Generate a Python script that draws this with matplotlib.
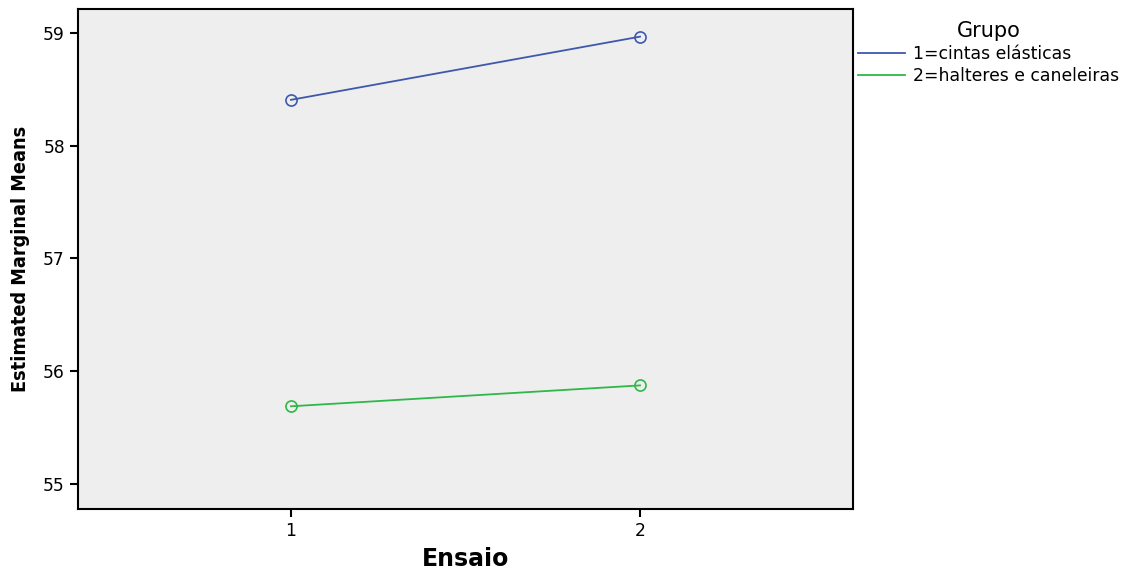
import matplotlib
matplotlib.use("Agg")
import matplotlib.pyplot as plt
from matplotlib import font_manager

ensaio = [1, 2]
grupos = ["1=cintas elásticas", "2=halteres e caneleiras"]
medias = {
    "1=cintas elásticas": [58.405, 58.965],
    "2=halteres e caneleiras": [55.69, 55.875],
}
cores = ["#3E58AC", "#2EB848"]

plt.rcParams['font.family'] = ['Liberation Sans', 'DejaVu Sans']

# condensed bold for the y label if there is one
cond = [f for f in font_manager.fontManager.ttflist
        if f.stretch == 'condensed' and f.weight in ('bold', 700)]

fig = plt.figure(figsize=(11.29, 5.73), dpi=100)
ax = fig.add_axes([0.0691, 0.1117, 0.6864, 0.8726])
ax.set_facecolor("#EEEEEE")

for g, c in zip(grupos, cores):
    ax.plot(ensaio, medias[g], color=c, lw=1.3, marker='o', markersize=8,
            markerfacecolor='none', markeredgecolor=c, markeredgewidth=1.2, label=g)

ax.set_xlim(0.39, 2.61)
ax.set_ylim(54.78, 59.21)
ax.set_xticks(ensaio)
ax.set_yticks([55, 56, 57, 58, 59])
ax.tick_params(length=6, width=1.5, color='black')
for lab in ax.get_xticklabels() + ax.get_yticklabels():
    lab.set_family('DejaVu Sans')
    lab.set_fontsize(12.3)
for s in ax.spines.values():
    s.set_linewidth(1.5)

ax.set_xlabel("Ensaio", fontsize=17, fontweight='bold', family='DejaVu Sans', labelpad=5)
if cond:
    fp = font_manager.FontProperties(fname=cond[0].fname, size=14.2)
    ax.set_ylabel("Estimated Marginal Means", fontproperties=fp, labelpad=9)
else:
    ax.set_ylabel("Estimated Marginal Means", fontsize=15, fontweight='bold', labelpad=10)

leg = fig.legend(loc='upper left', bbox_to_anchor=(0.7465, 0.99), frameon=False,
                 title="Grupo", prop={'family': 'DejaVu Sans', 'size': 12.4},
                 title_fontproperties={'family': 'DejaVu Sans', 'size': 15},
                 handlelength=2.7, handletextpad=0.45, labelspacing=0.22)
for h in leg.legend_handles:
    h.set_marker('')

fig.savefig("out.png", dpi=100)
